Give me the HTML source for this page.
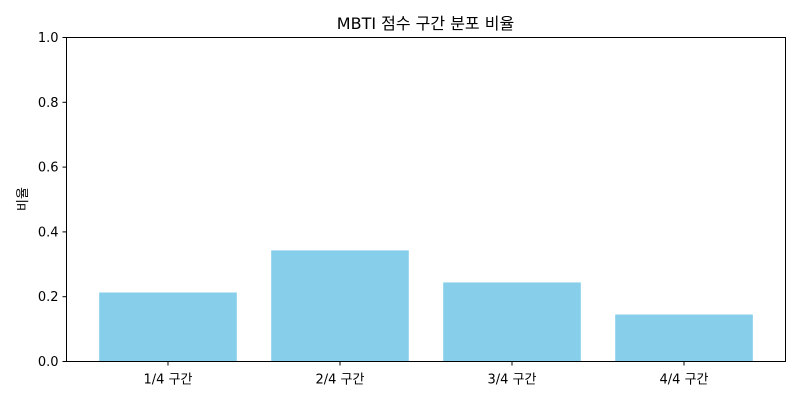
<!DOCTYPE html>
<html><head><meta charset="utf-8"><style>
body{margin:0;background:#fff;font-family:"Liberation Sans","DejaVu Sans","Noto Sans CJK KR",sans-serif}
text{font-family:"DejaVu Sans","Liberation Sans","Noto Sans CJK KR",sans-serif}
</style></head><body>
<svg id="chart" width="800" height="400" xmlns="http://www.w3.org/2000/svg">
<rect width="800" height="400" fill="#fff"/>
<text x="425.5" y="29" font-size="16" text-anchor="middle">MBTI 점수 구간 분포 비율</text>
<text transform="translate(27,199) rotate(-90)" font-size="13" text-anchor="middle">비율</text>
<g id="bars"></g><g id="axes"></g>
<rect x="66.5" y="37.5" width="719" height="324" fill="none" stroke="#000" stroke-width="1"/>
</svg>
<script>
const categories = ["1/4 구간","2/4 구간","3/4 구간","4/4 구간"];
const values = [0.213,0.343,0.244,0.145];
const yTicks = [0,0.2,0.4,0.6,0.8,1.0];
const yTickLabels = ["0.0","0.2","0.4","0.6","0.8","1.0"];
const NS="http://www.w3.org/2000/svg";
const L=66.5,R=785.5,T=37.5,B=361.5;
const xs=i=>L+(i+0.59)/4.18*(R-L);
const ys=v=>B-v*(B-T);
const bw=0.8/4.18*(R-L);
const bars=document.getElementById('bars'),axes=document.getElementById('axes');
function mk(t,a,p){const e=document.createElementNS(NS,t);for(const k in a)e.setAttribute(k,a[k]);p.appendChild(e);return e;}
values.forEach((v,i)=>{
 const r=mk('rect',{x:xs(i)-bw/2,y:ys(v),width:bw,height:ys(0)-ys(v),fill:'#87ceeb'},bars);
 
 
 const tk=mk('line',{x1:xs(i),x2:xs(i),y1:B,y2:B+4,stroke:'#000'},axes);
 
 
 const t=mk('text',{x:xs(i),y:B+22,'font-size':13,'text-anchor':'middle'},axes);
 t.textContent=categories[i];
 
 
});
yTicks.forEach((v,i)=>{
 const tk=mk('line',{x1:L-4,x2:L,y1:ys(v),y2:ys(v),stroke:'#000'},axes);
 
 
 const t=mk('text',{x:L-8,y:ys(v)+4.5,'font-size':13,'text-anchor':'end'},axes);
 t.textContent=yTickLabels[i];
 
 
});
</script>
</body></html>
